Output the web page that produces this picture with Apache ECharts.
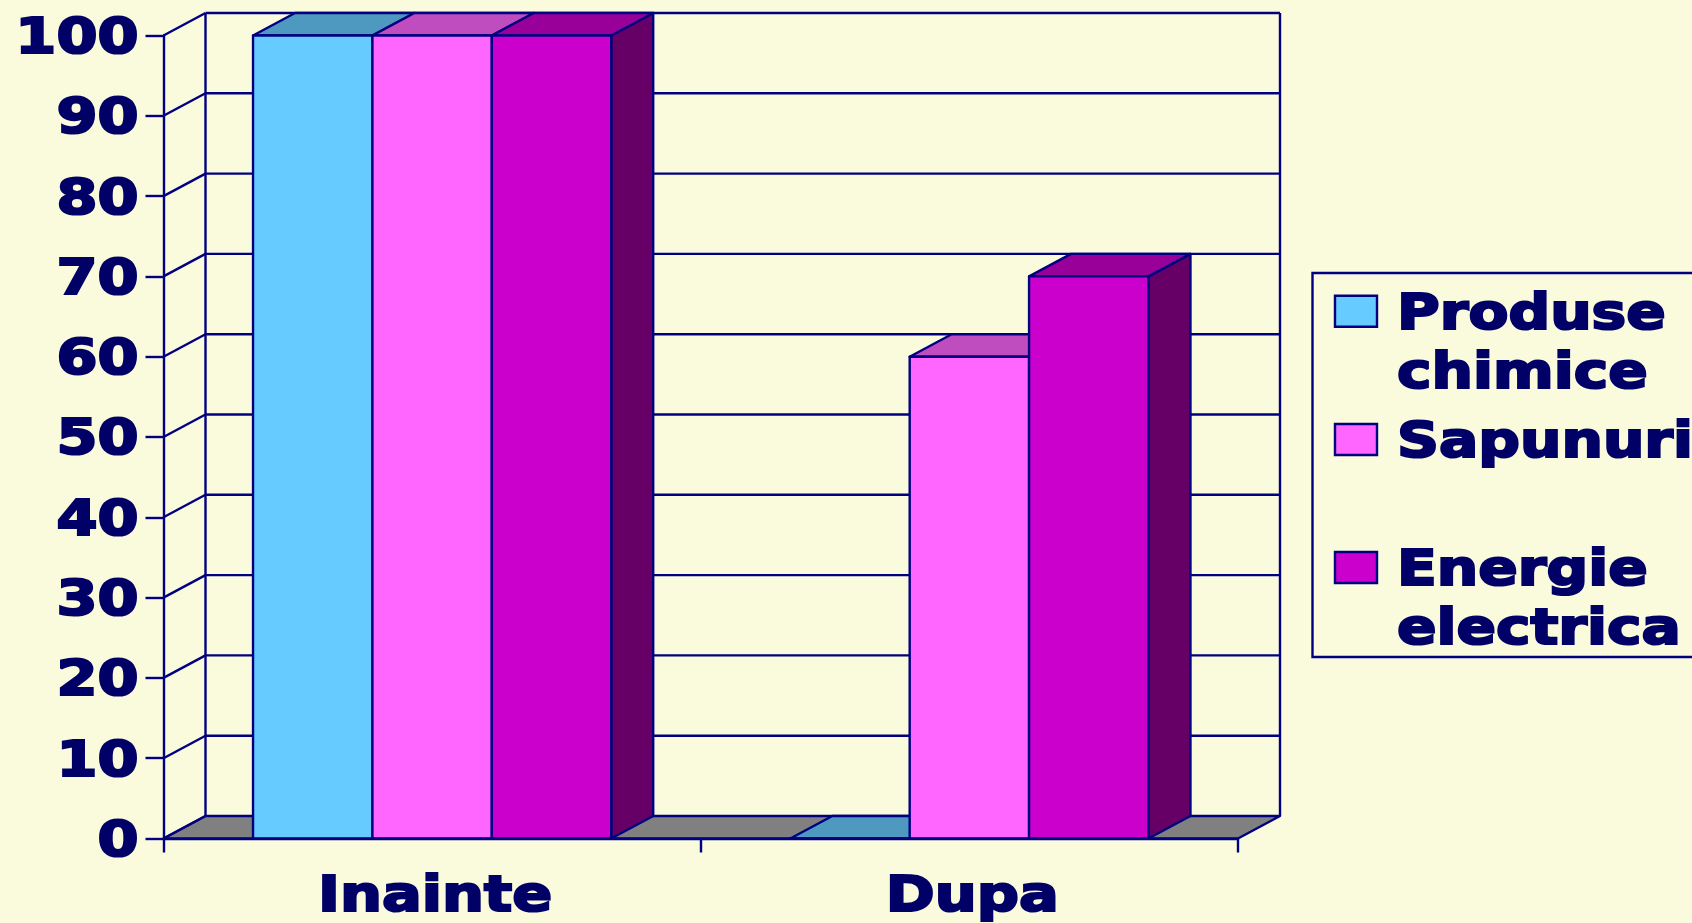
<!DOCTYPE html>
<html>
<head>
<meta charset="utf-8">
<title>Inainte / Dupa</title>
<script src="https://cdn.jsdelivr.net/npm/echarts@6/dist/echarts.min.js"></script>
<style>
html,body{margin:0;padding:0;background:#FAFADC;overflow:hidden}
#chart{width:1692px;height:923px}
</style>
</head>
<body>
<div id="chart"></div>
<script>
var categories = ['Inainte', 'Dupa'];
var yTicks = [0, 10, 20, 30, 40, 50, 60, 70, 80, 90, 100];
var seriesNames = ['Produse\nchimice', 'Sapunuri', 'Energie\nelectrica'];
var produseValues = [100, 0];
var sapunuriValues = [100, 60];
var energieValues = [100, 70];

var INK = '#000066';
var LINE = '#000080';
var BG = '#FAFADC';
var LW = 2.4;
var DEPTH_X = 42, DEPTH_Y = 22.5;
var FONT = 'bold 50px "DejaVu Sans"';
var STRETCH = 1.18;
var LEGEND_STRETCH = 1.165;

// front, top, side
var faces = [
    ['#66CCFF', '#4D99BF', '#336680'],
    ['#FF66FF', '#BF4DBF', '#803380'],
    ['#CC00CC', '#990099', '#660066']
];

function poly(points, fill) {
    return {
        type: 'polygon',
        shape: { points: points },
        style: { fill: fill, stroke: LINE, lineWidth: LW, lineJoin: 'round' }
    };
}

function seg(x1, y1, x2, y2) {
    return {
        type: 'line',
        shape: { x1: x1, y1: y1, x2: x2, y2: y2 },
        style: { stroke: LINE, lineWidth: LW }
    };
}

function bigText(str, x, y, align, vAlign, stretch) {
    return {
        type: 'text',
        x: x,
        y: y,
        scaleX: stretch || STRETCH,
        style: {
            text: str,
            x: 0,
            y: 0,
            font: FONT,
            fill: INK,
            stroke: INK,
            lineWidth: 2.2,
            align: align,
            verticalAlign: vAlign,
            lineHeight: 59
        }
    };
}

// back wall, floor and the gridlines that run round the corner
function renderWalls(params, api) {
    var cs = params.coordSys;
    var left = cs.x, right = cs.x + cs.width;
    var base = api.coord([0, 0])[1];
    var top = api.coord([0, 100])[1];
    var kids = [
        poly([[left, base], [left + DEPTH_X, base - DEPTH_Y], [right + DEPTH_X, base - DEPTH_Y], [right, base]], '#808080'),
        seg(left + DEPTH_X, top - DEPTH_Y, left + DEPTH_X, base - DEPTH_Y),
        seg(right + DEPTH_X, top - DEPTH_Y, right + DEPTH_X, base - DEPTH_Y)
    ];
    yTicks.forEach(function (t) {
        var y = api.coord([0, t])[1];
        kids.push(seg(left, y, left + DEPTH_X, y - DEPTH_Y));
        if (t > 0) kids.push(seg(left + DEPTH_X, y - DEPTH_Y, right + DEPTH_X, y - DEPTH_Y));
    });
    return { type: 'group', children: kids };
}

function barRenderer(idx) {
    return function (params, api) {
        var band = api.size([1, 0])[0];
        var w = band / 4.5;
        var p = api.coord([api.value(0), api.value(1)]);
        var y0 = api.coord([api.value(0), 0])[1];
        var x = p[0] - 1.5 * w + idx * w;
        var y = p[1];
        return {
            type: 'group',
            children: [
                poly([[x + w, y], [x + w + DEPTH_X, y - DEPTH_Y], [x + w + DEPTH_X, y0 - DEPTH_Y], [x + w, y0]], faces[idx][2]),
                poly([[x, y], [x + DEPTH_X, y - DEPTH_Y], [x + w + DEPTH_X, y - DEPTH_Y], [x + w, y]], faces[idx][1]),
                poly([[x, y], [x + w, y], [x + w, y0], [x, y0]], faces[idx][0])
            ]
        };
    };
}

function barData(values) {
    return values.map(function (v, i) { return [i, v]; });
}

function barSeries(idx, values) {
    return {
        type: 'custom',
        name: seriesNames[idx],
        renderItem: barRenderer(idx),
        clip: false,
        silent: true,
        animation: false,
        z: 3,
        encode: { x: 0, y: 1 },
        data: barData(values)
    };
}

var legendRows = [
    { top: 295.7, text: 287 },
    { top: 424, text: 415 },
    { top: 552, text: 543 }
];

var legendItems = [{
    type: 'polyline',
    shape: { points: [[1692, 273], [1312.5, 273], [1312.5, 657], [1692, 657]] },
    style: { fill: null, stroke: LINE, lineWidth: LW }
}];
legendRows.forEach(function (row, i) {
    legendItems.push({
        type: 'rect',
        shape: { x: 1335, y: row.top, width: 42, height: 31 },
        style: { fill: faces[i][0], stroke: LINE, lineWidth: LW }
    });
    legendItems.push(bigText(seriesNames[i], 1397, row.text, 'left', 'top', LEGEND_STRETCH));
});

var chart = echarts.init(document.getElementById('chart'));

chart.setOption({
    backgroundColor: BG,
    animation: false,
    grid: { left: 163.5, top: 35.5, width: 1074.5, height: 803 },
    xAxis: {
        type: 'category',
        data: categories,
        axisLine: { lineStyle: { color: LINE, width: LW } },
        axisTick: { show: true, interval: 0, length: 14, lineStyle: { color: LINE, width: LW } },
        axisLabel: { show: false },
        splitLine: { show: false },
        z: 5
    },
    yAxis: {
        type: 'value',
        min: 0,
        max: 100,
        interval: 10,
        axisLine: { show: true, lineStyle: { color: LINE, width: LW } },
        axisTick: { show: true, length: 18, lineStyle: { color: LINE, width: LW } },
        axisLabel: { show: false },
        splitLine: { show: false },
        z: 5
    },
    graphic: { elements: legendItems },
    series: [
        {
            type: 'custom',
            name: 'walls',
            renderItem: renderWalls,
            clip: false,
            silent: true,
            z: 1,
            data: [[0, 0]]
        },
        barSeries(0, produseValues),
        barSeries(1, sapunuriValues),
        barSeries(2, energieValues),
        { // tick labels, stretched like the original type
            type: 'custom',
            name: 'yLabels',
            renderItem: function (params, api) {
                var y = api.coord([0, api.value(1)])[1];
                return bigText(String(api.value(1)), params.coordSys.x - 25, y + 4.5, 'right', 'middle');
            },
            clip: false,
            silent: true,
            z: 6,
            encode: { x: 0, y: 1 },
            data: yTicks.map(function (t) { return [0, t]; })
        },
        {
            type: 'custom',
            name: 'xLabels',
            renderItem: function (params, api) {
                var p = api.coord([api.value(0), 0]);
                return bigText(categories[api.value(0)], p[0] + 3, p[1] + 60, 'center', 'middle');
            },
            clip: false,
            silent: true,
            z: 6,
            encode: { x: 0, y: 1 },
            data: categories.map(function (c, i) { return [i, 0]; })
        }
    ]
});
</script>
</body>
</html>
